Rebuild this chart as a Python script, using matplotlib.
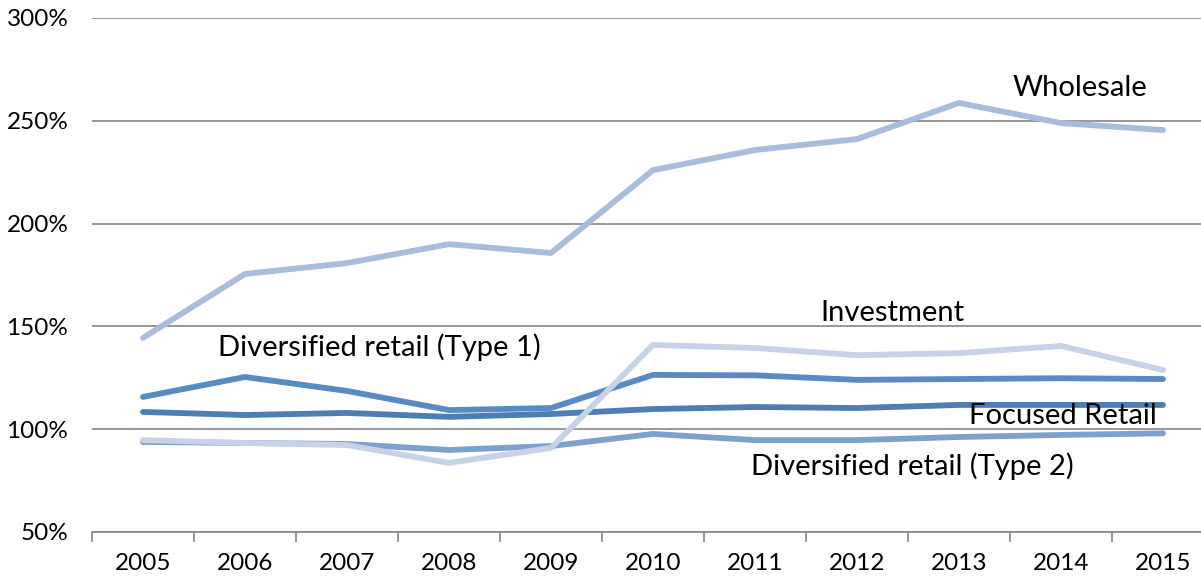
import numpy as np
import matplotlib.pyplot as plt
from matplotlib.ticker import FuncFormatter, FixedLocator

plt.rcParams['font.family'] = ['Lato', 'DejaVu Sans']

years = [2005, 2006, 2007, 2008, 2009, 2010, 2011, 2012, 2013, 2014, 2015]

# значения в процентах
diversified_type2 = [93.8, 93.3, 92.8, 89.9, 91.8, 97.7, 94.7, 94.7, 96.2, 97.2, 98.0]
focused_retail = [108.4, 106.9, 107.9, 106.0, 107.4, 109.8, 110.8, 110.3, 111.8, 111.8, 111.8]
diversified_type1 = [115.7, 125.4, 118.6, 109.3, 110.3, 126.4, 126.2, 124.0, 124.4, 124.8, 124.4]
wholesale = [144.4, 175.5, 180.8, 190.0, 185.7, 226.0, 235.8, 241.1, 258.7, 248.9, 245.5]
investment = [94.7, 93.3, 92.3, 83.6, 90.9, 141.0, 139.5, 136.0, 137.0, 140.5, 128.8]

x = np.arange(len(years))

fig = plt.figure(figsize=(12.01, 5.80), dpi=100)
# правая граница области графика выходит за край рисунка
ax = fig.add_axes([92 / 1201, 1 - 532 / 580, 1122 / 1201, 514 / 580])

lw = 4.2
ax.plot(x, diversified_type2, color='#7da1cf', lw=lw, solid_capstyle='round')
ax.plot(x, focused_retail, color='#4d7db5', lw=lw, solid_capstyle='round')
ax.plot(x, diversified_type1, color='#588bc3', lw=lw, solid_capstyle='round')
ax.plot(x, wholesale, color='#a9bcdb', lw=lw, solid_capstyle='round')
ax.plot(x, investment, color='#c8d2e6', lw=lw, solid_capstyle='round')

# подписи рядов
fs = 21
ax.text(9.19, 266, 'Wholesale', fontsize=fs, ha='center', va='center')
ax.text(7.35, 156.5, 'Investment', fontsize=fs, ha='center', va='center')
ax.text(2.32, 140, 'Diversified retail (Type 1)', fontsize=fs, ha='center', va='center')
ax.text(9.94, 106.4, 'Focused Retail', fontsize=fs, ha='right', va='center')
ax.text(7.54, 82, 'Diversified retail (Type 2)', fontsize=fs, ha='center', va='center')

ax.set_xlim(-0.5, len(years) - 0.5)
ax.set_ylim(50, 300)
ax.set_yticks(np.arange(50, 301, 50))
ax.yaxis.set_major_formatter(FuncFormatter(lambda v, p: f'{v:.0f}%'))
ax.set_xticks(x)
ax.set_xticklabels([str(y) for y in years])
ax.xaxis.set_minor_locator(FixedLocator(np.arange(-0.5, len(years), 1.0)))

ax.grid(axis='y', color='#868686', lw=1.2)
ax.set_axisbelow(True)
for s in ['top', 'right', 'left']:
    ax.spines[s].set_visible(False)
ax.spines['bottom'].set_color('#868686')
ax.spines['bottom'].set_linewidth(1.2)

ax.tick_params(axis='y', length=0, labelsize=17.5, pad=17)
ax.tick_params(axis='x', which='major', length=0, labelsize=17.5, pad=15)
ax.tick_params(axis='x', which='minor', length=7, color='#868686', width=1.2)

fig.savefig('out.png', dpi=100)
